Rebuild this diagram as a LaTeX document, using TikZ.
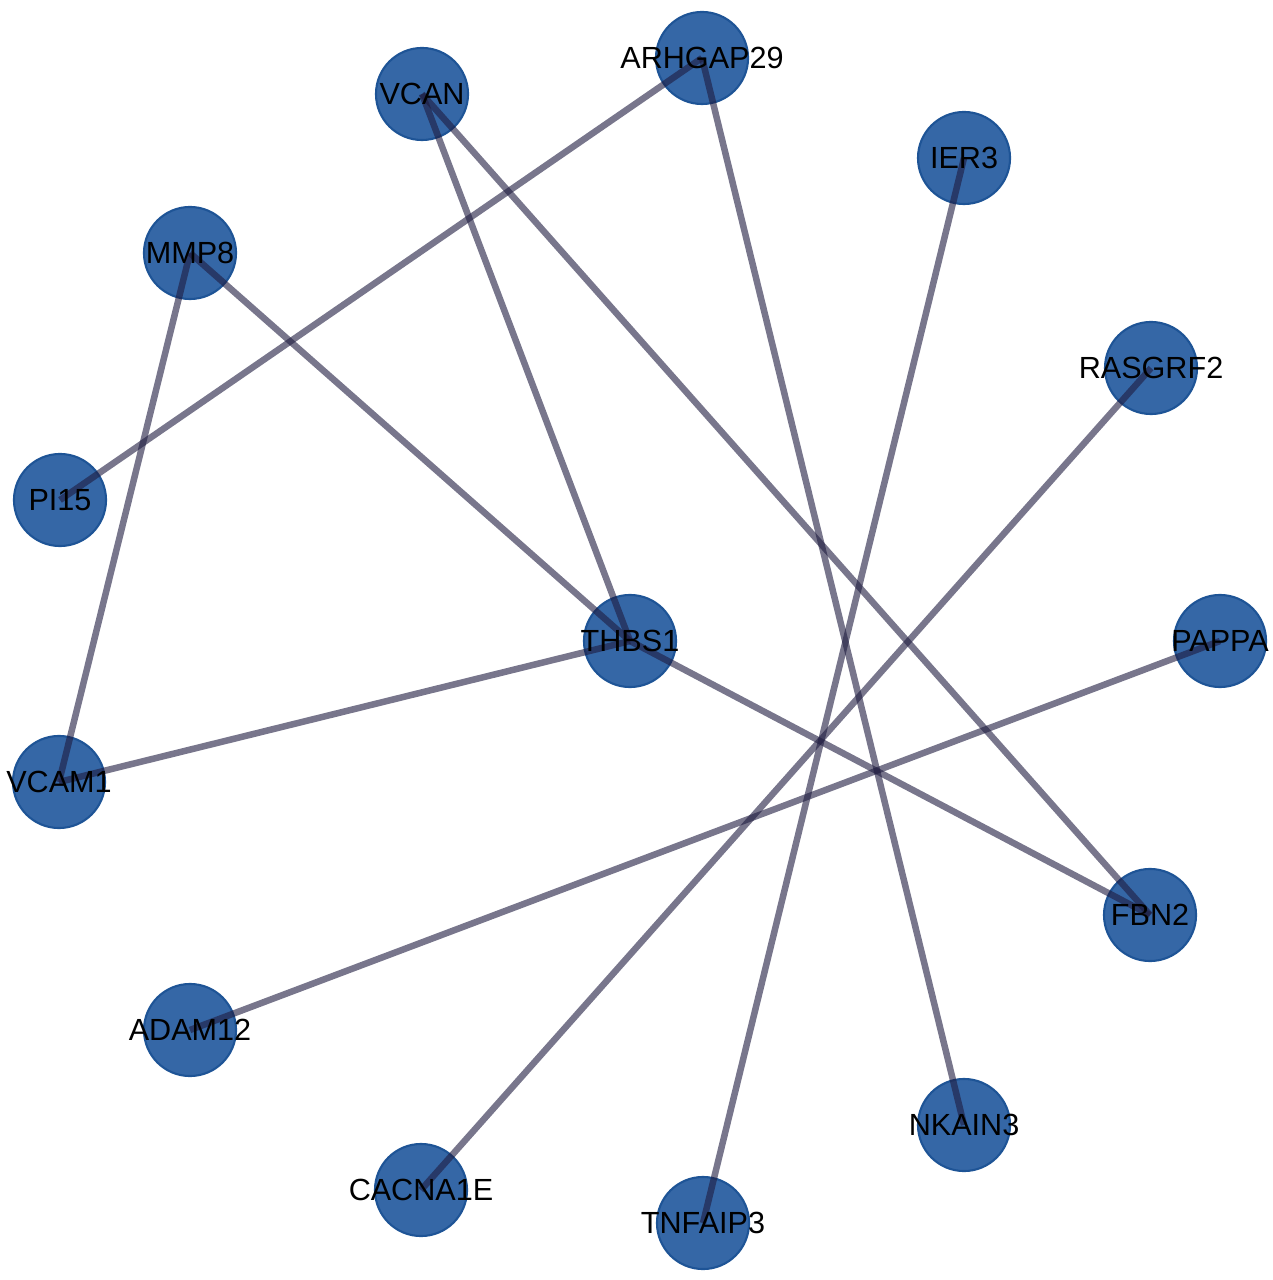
\documentclass[tikz,border=0pt]{standalone}
\usepackage{fontspec}
\setmainfont{Liberation Sans}
\usepackage{tikz}
\usetikzlibrary{shapes,positioning}
\definecolor{geneblue}{RGB}{53,103,166}
\definecolor{geneedge}{RGB}{30,84,150}
\definecolor{linkgray}{RGB}{30,27,63}

\begin{document}
\begin{tikzpicture}[x=0.01cm, y=-0.01cm,
    gene/.style={fill=geneblue, draw=geneedge, line width=0.6pt, circle, minimum size=0.92cm, inner sep=0pt},
    genetext/.style={font=\fontsize{8.7}{10}\selectfont, text=black, inner sep=0pt},
    link/.style={draw=linkgray, opacity=0.6, line width=1.85pt}]
            \useasboundingbox (0,0) rectangle (1272,1280);
            % genes
            \node[gene] (arhgap) at (702,58) {};
            \node[gene] (vcan) at (422,94) {};
            \node[gene] (ier3) at (964,158) {};
            \node[gene] (mmp8) at (190,253) {};
            \node[gene] (rasgrf) at (1151,368) {};
            \node[gene] (pi15) at (60,500) {};
            \node[gene] (thbs) at (630,641) {};
            \node[gene] (pappa) at (1220,641) {};
            \node[gene] (vcam) at (59,782) {};
            \node[gene] (fbn) at (1150,915) {};
            \node[gene] (adam) at (190,1030) {};
            \node[gene] (nkain) at (964,1125) {};
            \node[gene] (cacna) at (421,1190) {};
            \node[gene] (tnfaip) at (703,1223) {};

            % interactions
            \draw[link] (arhgap.center) -- (pi15.center);
            \draw[link] (arhgap.center) -- (nkain.center);
            \draw[link] (vcan.center) -- (thbs.center);
            \draw[link] (vcan.center) -- (fbn.center);
            \draw[link] (ier3.center) -- (tnfaip.center);
            \draw[link] (mmp8.center) -- (thbs.center);
            \draw[link] (mmp8.center) -- (vcam.center);
            \draw[link] (rasgrf.center) -- (cacna.center);
            \draw[link] (thbs.center) -- (vcam.center);
            \draw[link] (thbs.center) -- (fbn.center);
            \draw[link] (pappa.center) -- (adam.center);

            % names
            \node[genetext] (arhgap-t) at (arhgap.center) {ARHGAP29};
            \node[genetext] (vcan-t) at (vcan.center) {VCAN};
            \node[genetext] (ier3-t) at (ier3.center) {IER3};
            \node[genetext] (mmp8-t) at (mmp8.center) {MMP8};
            \node[genetext] (rasgrf-t) at (rasgrf.center) {RASGRF2};
            \node[genetext] (pi15-t) at (pi15.center) {PI15};
            \node[genetext] (thbs-t) at (thbs.center) {THBS1};
            \node[genetext] (pappa-t) at (pappa.center) {PAPPA};
            \node[genetext] (vcam-t) at (vcam.center) {VCAM1};
            \node[genetext] (fbn-t) at (fbn.center) {FBN2};
            \node[genetext] (adam-t) at (adam.center) {ADAM12};
            \node[genetext] (nkain-t) at (nkain.center) {NKAIN3};
            \node[genetext] (cacna-t) at (cacna.center) {CACNA1E};
            \node[genetext] (tnfaip-t) at (tnfaip.center) {TNFAIP3};
\end{tikzpicture}
\end{document}
